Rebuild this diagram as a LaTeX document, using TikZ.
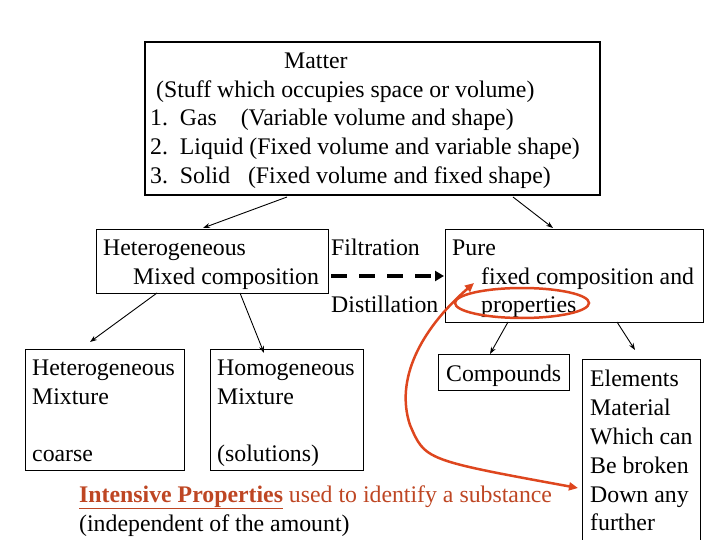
\documentclass[tikz,border=0pt]{standalone}
\usepackage{fontspec}
\setmainfont{Liberation Serif}
\usepackage{xcolor}
\usetikzlibrary{arrows.meta}
\definecolor{redb}{RGB}{222,70,30}
\definecolor{redt}{RGB}{190,70,35}
\begin{document}
\begin{tikzpicture}[x=1pt,y=-1pt,
  t/.style={anchor=base west,inner sep=0pt,font=\fontsize{23.8}{28}\selectfont},
  bx/.style={draw,line width=0.8pt},
  ar/.style={-{Stealth[length=7pt,width=5pt]},line width=0.9pt}]
\useasboundingbox (0,0) rectangle (720,540);
% boxes
\draw[line width=2.5pt] (145,42) rectangle (600,195);
\draw[bx] (96,229) rectangle (328,293);
\draw[bx] (445,229) rectangle (703,322);
\draw[bx] (25,349) rectangle (184,470);
\draw[bx] (210,349) rectangle (363,470);
\draw[bx] (438,354) rectangle (569,390);
\draw[bx] (582,359) rectangle (700,545);
% texts
\node[t] (m0) at (284,69) {Matter};
\node[t] (m1) at (156,98) {(Stuff which occupies space or volume)};
\node[t] (m2) at (150,126) {1.\ \ Gas\ \ \ \ (Variable volume and shape)};
\node[t] (m3) at (150,155) {2.\ \ Liquid (Fixed volume and variable shape)};
\node[t] (m4) at (150,184) {3.\ \ Solid\ \ \ (Fixed volume and fixed shape)};
\node[t] (h1) at (103,255) {Heterogeneous};
\node[t] (h2) at (133,284) {Mixed composition};
\node[t] (f) at (331,255) {Filtration};
\node[t] (d) at (331,312) {Distillation};
\node[t] (p1) at (452,255) {Pure};
\node[t] (p2) at (481,284) {fixed composition and};
\node[t] (p3) at (481,312) {properties};
\node[t] (a1) at (32,375) {Heterogeneous};
\node[t] (a2) at (32,404) {Mixture};
\node[t] (a3) at (32,461) {coarse};
\node[t] (b1) at (217,375) {Homogeneous};
\node[t] (b2) at (217,404) {Mixture};
\node[t] (b3) at (217,461) {(solutions)};
\node[t] (c) at (446,381) {Compounds};
\foreach \s/\y [count=\i] in {Elements/386,Material/415,Which can/444,Be broken/473,Down any/502,further/530}
  \node[t] (e\i) at (590,\y) {\s};
\node[t,text=redt] (r1) at (79,502) {\textbf{\underline{Intensive Properties}} used to identify a substance};
\node[t] (r2) at (79,531) {(independent of the amount)};
% arrows
\coordinate (s1) at (287,197); \coordinate (t1) at (203,228);
\coordinate (s2) at (513,197); \coordinate (t2) at (553,228);
\coordinate (s3) at (157,293); \coordinate (t3) at (90,342);
\coordinate (s4) at (240,293); \coordinate (t4) at (264,353);
\coordinate (s5) at (508,322); \coordinate (t5) at (490,354);
\coordinate (s6) at (617,322); \coordinate (t6) at (635,350);
\foreach \i in {1,...,6} \draw[ar] (s\i) -- (t\i);
\coordinate (ds) at (331,276); \coordinate (dt) at (444,276);
\draw[line width=4pt,dash pattern=on 16pt off 12pt,-{Triangle[length=9pt,width=10pt]}] (ds) -- (dt);
% red
\draw[redb,line width=2.5pt] (522,303) ellipse (67 and 15);
\coordinate (q1) at (474,283); \coordinate (q2) at (578,488);
\draw[redb,line width=2.5pt,{Triangle[length=9pt,width=8pt]}-{Triangle[length=9pt,width=8pt]}]
  (q1) .. controls (420,330) and (395,380) .. (410,425) .. controls (425,460) .. (q2);
\end{tikzpicture}
\end{document}
